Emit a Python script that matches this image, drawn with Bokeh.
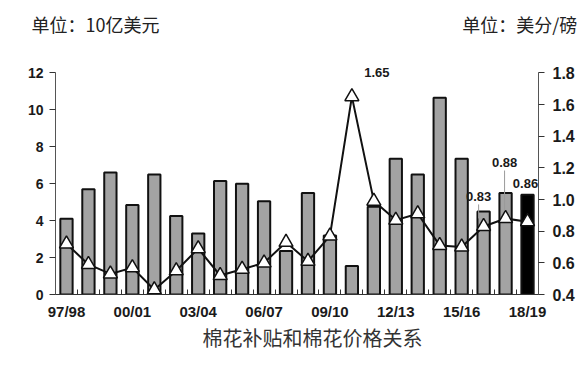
from bokeh.plotting import figure
from bokeh.models import (Range1d, LinearAxis, FixedTicker, CustomJSTickFormatter,
                          PrintfTickFormatter, Label, ColumnDataSource)
from bokeh.embed import file_html
from bokeh.resources import INLINE

# ---- data ----
seasons = ["97/98", "98/99", "99/00", "00/01", "01/02", "02/03", "03/04", "04/05",
           "05/06", "06/07", "07/08", "08/09", "09/10", "10/11", "11/12", "12/13",
           "13/14", "14/15", "15/16", "16/17", "17/18", "18/19"]
subsidy = [4.1, 5.7, 6.6, 4.85, 6.5, 4.25, 3.3, 6.15, 6.0, 5.05, 2.35, 5.5,
           3.2, 1.55, 4.75, 7.35, 6.5, 10.65, 7.35, 4.5, 5.5, 5.4]
price = [0.72, 0.59, 0.53, 0.57, 0.43, 0.55, 0.69, 0.52, 0.56, 0.60, 0.73, 0.61,
         0.77, 1.65, 0.99, 0.87, 0.91, 0.71, 0.70, 0.83, 0.88, 0.86]
left_ticks = [0, 2, 4, 6, 8, 10, 12]
right_ticks = [0.4, 0.6, 0.8, 1.0, 1.2, 1.4, 1.6, 1.8]
labelled = ["10/11", "16/17", "17/18", "18/19"]
unit_left = "单位：10亿美元"
unit_right = "单位：美分/磅"
title_text = "棉花补贴和棉花价格关系"

n = len(seasons)
xs = [i + 0.5 for i in range(n)]
colors = ["#a3a3a3"] * (n - 1) + ["#000000"]

# geometry: 12 left units span 221.6 px; frame is a little taller so labels fit
ppu_left = 221.6 / (left_ticks[-1] - left_ticks[0])
frame_h = 233
frame_w = 483
top_left = left_ticks[0] + frame_h / ppu_left
ratio = (right_ticks[-1] - right_ticks[0]) / (left_ticks[-1] - left_ticks[0])
top_right = right_ticks[0] + (top_left - left_ticks[0]) * ratio
ppu_right = ppu_left / ratio
ppx = frame_w / n

p = figure(width=586, height=364, output_backend="svg", toolbar_location=None,
           x_range=Range1d(0, n), y_range=Range1d(left_ticks[0], top_left),
           min_border_left=55, min_border_right=48, min_border_top=61, min_border_bottom=70)
p.extra_y_ranges = {"price": Range1d(right_ticks[0], top_right)}
p.outline_line_color = None
p.grid.visible = False
p.background_fill_color = "white"

src = ColumnDataSource(dict(x=xs, sub=subsidy, price=price, color=colors))
p.vbar(x="x", top="sub", bottom=0, width=0.56, source=src, fill_color="color",
       line_color="#111111", line_width=2)
p.line(x="x", y="price", source=src, y_range_name="price", line_color="#111111", line_width=2)
p.scatter(x="x", y="price", source=src, y_range_name="price", marker="triangle", size=14,
          fill_color="white", line_color="#111111", line_width=1.5)

tick_font = "Liberation Sans"
cjk = "Noto Sans CJK SC"

# x axis
xa = p.xaxis[0]
xa.ticker = FixedTicker(ticks=[i + 0.5 for i in range(0, n, 3)], minor_ticks=list(range(n + 1)))
xa.formatter = CustomJSTickFormatter(args=dict(cats=seasons),
                                     code="const i = Math.floor(tick); return cats[i] || '';")
xa.major_tick_in = 0
xa.major_tick_out = 0
xa.minor_tick_in = 5
xa.minor_tick_out = 0
xa.minor_tick_line_color = "#333333"
xa.axis_line_color = "#333333"
xa.major_label_text_font = tick_font
xa.major_label_text_font_style = "bold"
xa.major_label_text_font_size = "15px"
xa.major_label_text_color = "#1a1a1a"
xa.major_label_standoff = 8

# bottom title as a second, line-less axis
title_x = 11.71
ta = LinearAxis(ticker=FixedTicker(ticks=[title_x]),
                formatter=CustomJSTickFormatter(args=dict(t=title_text), code="return t;"))
ta.axis_line_color = None
ta.major_tick_line_color = None
ta.minor_tick_line_color = None
ta.major_label_text_font = cjk
ta.major_label_text_font_size = "20px"
ta.major_label_text_color = "#333333"
ta.major_label_standoff = -6
p.add_layout(ta, "below")

# unit texts as a line-less axis above
ua = LinearAxis(ticker=FixedTicker(ticks=[1.82, 21.15]),
                formatter=CustomJSTickFormatter(args=dict(a=unit_left, b=unit_right),
                                                code="return tick < 11 ? a : b;"))
ua.axis_line_color = None
ua.major_tick_line_color = None
ua.minor_tick_line_color = None
ua.major_label_text_font = cjk
ua.major_label_text_font_size = "18px"
ua.major_label_text_color = "#222222"
ua.major_label_standoff = 19
p.add_layout(ua, "above")

ya = p.yaxis[0]
ya.ticker = FixedTicker(ticks=left_ticks)
ya.bounds = (left_ticks[0], left_ticks[-1])
ya.major_tick_in = 0
ya.major_tick_out = 6
ya.minor_tick_line_color = None
ya.axis_line_color = "#555555"
ya.major_tick_line_color = "#333333"
ya.major_label_text_font = tick_font
ya.major_label_text_font_style = "bold"
ya.major_label_text_font_size = "14px"
ya.major_label_text_color = "#1a1a1a"
ya.major_label_standoff = 6

ra = LinearAxis(y_range_name="price", ticker=FixedTicker(ticks=right_ticks),
                formatter=PrintfTickFormatter(format="%.1f"),
                bounds=(right_ticks[0], right_ticks[-1]))
ra.major_tick_in = 0
ra.major_tick_out = 6
ra.minor_tick_line_color = None
ra.axis_line_color = "#555555"
ra.major_tick_line_color = "#333333"
ra.major_label_text_font = tick_font
ra.major_label_text_font_style = "bold"
ra.major_label_text_font_size = "16px"
ra.major_label_text_color = "#1a1a1a"
ra.major_label_standoff = 8
p.add_layout(ra, "right")

# value labels
offsets = {"10/11": (25, 24, False), "16/17": (-5, 30, True),
           "17/18": (-1, 56, True), "18/19": (-2, 38, False)}
for s in labelled:
    i = seasons.index(s)
    dx, dy, leader = offsets[s]
    p.add_layout(Label(x=xs[i], y=price[i], y_range_name="price", x_offset=dx, y_offset=dy,
                       text="%.2f" % price[i], text_font=tick_font, text_font_style="bold",
                       text_font_size="13px", text_color="#1a1a1a",
                       text_align="center", text_baseline="middle"))
    if leader:
        lx = xs[i] + dx / ppx
        p.segment(x0=[lx], y0=[price[i] + 8 / ppu_right], x1=[lx],
                  y1=[price[i] + (dy - 8) / ppu_right],
                  y_range_name="price", line_color="#9a9a9a", line_width=1)

open("out.html", "w").write(file_html(p, INLINE))
